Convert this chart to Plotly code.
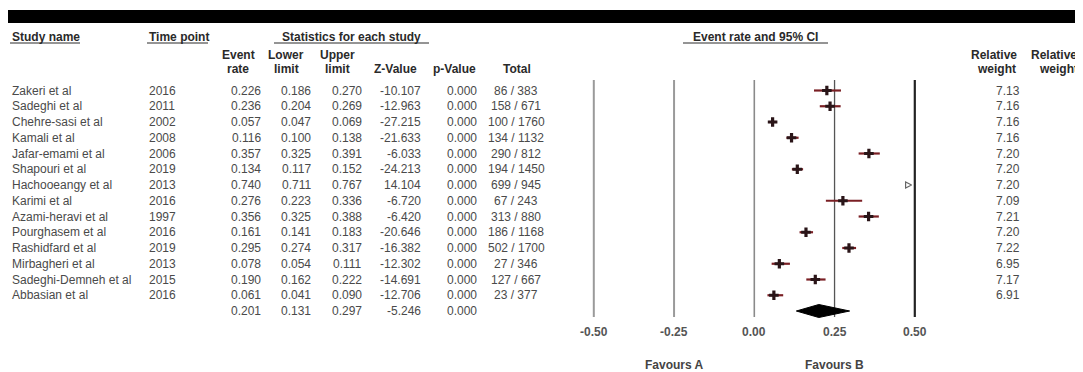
import plotly.graph_objects as go

W, H = 1083, 372
OFF = 8  # default page margin of the html body

# ---------------- data ----------------
studies = ["Zakeri et al", "Sadeghi et al", "Chehre-sasi et al", "Kamali et al",
           "Jafar-emami et al", "Shapouri et al", "Hachooeangy et al", "Karimi et al",
           "Azami-heravi et al", "Pourghasem et al", "Rashidfard et al", "Mirbagheri et al",
           "Sadeghi-Demneh et al", "Abbasian et al"]
years = ["2016", "2011", "2002", "2008", "2006", "2019", "2013", "2016",
         "1997", "2016", "2019", "2013", "2015", "2016"]
event_rate = [0.226, 0.236, 0.057, 0.116, 0.357, 0.134, 0.740, 0.276,
              0.356, 0.161, 0.295, 0.078, 0.190, 0.061]
lower = [0.186, 0.204, 0.047, 0.100, 0.325, 0.117, 0.711, 0.223,
         0.325, 0.141, 0.274, 0.054, 0.162, 0.041]
upper = [0.270, 0.269, 0.069, 0.138, 0.391, 0.152, 0.767, 0.336,
         0.388, 0.183, 0.317, 0.111, 0.222, 0.090]
z_values = [-10.107, -12.963, -27.215, -21.633, -6.033, -24.213, 14.104, -6.720,
            -6.420, -20.646, -16.382, -12.302, -14.691, -12.706]
p_values = [0.000] * 14
events = [86, 158, 100, 134, 290, 194, 699, 67, 313, 186, 502, 27, 127, 23]
totals = [383, 671, 1760, 1132, 812, 1450, 945, 243, 880, 1168, 1700, 346, 667, 377]
weights = [7.13, 7.16, 7.16, 7.16, 7.20, 7.20, 7.20, 7.09, 7.21, 7.20, 7.22, 6.95, 7.17, 6.91]

summary_rate, summary_lower, summary_upper = 0.201, 0.131, 0.297
summary_z, summary_p = -5.246, 0.000

tick_vals = [-0.50, -0.25, 0.00, 0.25, 0.50]
tick_labels = ["-0.50", "-0.25", "0.00", "0.25", "0.50"]
favours = ["Favours A", "Favours B"]

# ---------------- layout constants (window pixels) ----------------
ROW0, ROW_H = 90.5, 15.75
ZERO_PX, PX_PER_UNIT = 754.3, 321.0
AX_MIN, AX_MAX = -0.5, 0.5
row_y = [ROW0 + i * ROW_H for i in range(len(studies))]
sum_y = ROW0 + len(studies) * ROW_H

FW, FH = W - OFF, H - OFF  # figure size so that it ends at the window edge

TXT = "#4a4a4a"
HDR = "#2a2a2a"
FONT = "Liberation Sans, Arial, sans-serif"


def px2paper(px):
    return (px - OFF) / FW


fig = go.Figure()

in_idx = [i for i, v in enumerate(event_rate) if AX_MIN <= v <= AX_MAX]
out_idx = [i for i, v in enumerate(event_rate) if v > AX_MAX]

fig.add_trace(go.Scatter(
    x=[event_rate[i] for i in in_idx],
    y=[row_y[i] for i in in_idx],
    mode="markers",
    error_x=dict(type="data", symmetric=False,
                 array=[upper[i] - event_rate[i] for i in in_idx],
                 arrayminus=[event_rate[i] - lower[i] for i in in_idx],
                 color="#7a1f24", thickness=2.2, width=0),
    marker=dict(symbol="cross", size=8, color="#2a1518"),
    hoverinfo="skip", showlegend=False))

# off-scale studies (arrow at the right edge)
fig.add_trace(go.Scatter(
    x=[min(event_rate[i], AX_MAX) - 0.01 for i in out_idx],
    y=[row_y[i] for i in out_idx],
    mode="markers",
    marker=dict(symbol="arrow-right-open", size=6, color="#666",
                line=dict(color="#666", width=1.2)),
    hoverinfo="skip", showlegend=False))

# summary diamond
dh = 6.5
fig.add_trace(go.Scatter(
    x=[summary_lower, summary_rate, summary_upper, summary_rate, summary_lower],
    y=[sum_y, sum_y - dh, sum_y, sum_y + dh, sum_y],
    mode="lines", fill="toself", fillcolor="black",
    line=dict(color="black", width=1),
    hoverinfo="skip", showlegend=False))

shapes = []
shapes.append(dict(type="rect", xref="paper", yref="y", x0=px2paper(8), x1=1.0, y0=10, y1=23,
                   fillcolor="black", line=dict(width=0), layer="below"))
line_styles = [("#9a9a9a", 2), ("#9a9a9a", 2), ("#8a8a8a", 1.6), ("#555555", 1.3), ("#222222", 2.2)]
for tv, (c, w) in zip(tick_vals, line_styles):
    shapes.append(dict(type="line", xref="x", yref="y", x0=tv, x1=tv, y0=80, y1=317,
                       line=dict(color=c, width=w), layer="below"))

annotations = []


def ann(text, px, py, anchor="left", size=12, bold=False, color=TXT):
    t = f"<b>{text}</b>" if bold else text
    annotations.append(dict(text=t, x=px2paper(px), y=py, xref="paper", yref="y",
                            xanchor=anchor, yanchor="middle", showarrow=False,
                            font=dict(family=FONT, size=size, color=color)))


def underline(x0, x1, py):
    shapes.append(dict(type="line", xref="paper", yref="y", x0=px2paper(x0), x1=px2paper(x1),
                       y0=py, y1=py, line=dict(color=HDR, width=1)))


ann("Study name", 10, 37, bold=True, color=HDR)
underline(10, 80, 43)
ann("Time point", 147, 37, bold=True, color=HDR)
underline(147, 208, 43)
ann("Statistics for each study", 351, 37, anchor="center", bold=True, color=HDR)
underline(274, 429, 43)
ann("Event rate and 95% CI", 755, 37, anchor="center", bold=True, color=HDR)
underline(683, 828, 43)

col_hdr = [("Event", "rate", 238), ("Lower", "limit", 286), ("Upper", "limit", 337)]
for top, bot, cx in col_hdr:
    ann(top, cx, 55, anchor="center", bold=True, color=HDR)
    ann(bot, cx, 69, anchor="center", bold=True, color=HDR)
ann("Z-Value", 419, 69, anchor="right", bold=True, color=HDR)
ann("p-Value", 478, 69, anchor="right", bold=True, color=HDR)
ann("Total", 517, 69, anchor="center", bold=True, color=HDR)
ann("Relative", 1019, 55, anchor="right", bold=True, color=HDR)
ann("weight", 1018, 69, anchor="right", bold=True, color=HDR)
ann("Relative", 1029, 55, anchor="left", bold=True, color=HDR)
ann("weight", 1037, 69, anchor="left", bold=True, color=HDR)

for i, y in enumerate(row_y):
    ann(studies[i], 10, y)
    ann(years[i], 147, y)
    ann(f"{event_rate[i]:.3f}", 263, y, anchor="right")
    ann(f"{lower[i]:.3f}", 313, y, anchor="right")
    ann(f"{upper[i]:.3f}", 364, y, anchor="right")
    ann(f"{z_values[i]:.3f}", 423, y, anchor="right")
    ann(f"{p_values[i]:.3f}", 479, y, anchor="right")
    ann(f"{events[i]} / {totals[i]}", 516, y, anchor="center")
    ann(f"{weights[i]:.2f}", 1022, y, anchor="right")

ann(f"{summary_rate:.3f}", 263, sum_y, anchor="right")
ann(f"{summary_lower:.3f}", 313, sum_y, anchor="right")
ann(f"{summary_upper:.3f}", 364, sum_y, anchor="right")
ann(f"{summary_z:.3f}", 423, sum_y, anchor="right")
ann(f"{summary_p:.3f}", 479, sum_y, anchor="right")

for tv, tl in zip(tick_vals, tick_labels):
    annotations.append(dict(text=f"<b>{tl}</b>", x=tv, y=332, xref="x", yref="y",
                            xanchor="center", yanchor="middle", showarrow=False,
                            font=dict(family=FONT, size=12, color="#555")))
for tv, fl in zip([tick_vals[1], tick_vals[3]], favours):
    annotations.append(dict(text=f"<b>{fl}</b>", x=tv, y=365, xref="x", yref="y",
                            xanchor="center", yanchor="middle", showarrow=False,
                            font=dict(family=FONT, size=12, color="#444")))

x_lo = (OFF - ZERO_PX) / PX_PER_UNIT
x_hi = (W - ZERO_PX) / PX_PER_UNIT

fig.update_layout(
    width=FW, height=FH,
    margin=dict(l=0, r=0, t=0, b=0),
    paper_bgcolor="white", plot_bgcolor="white",
    xaxis=dict(range=[x_lo, x_hi], visible=False, domain=[0, 1]),
    yaxis=dict(range=[H, OFF], visible=False, domain=[0, 1]),
    shapes=shapes, annotations=annotations,
    showlegend=False,
)

fig.write_html("out.html")
